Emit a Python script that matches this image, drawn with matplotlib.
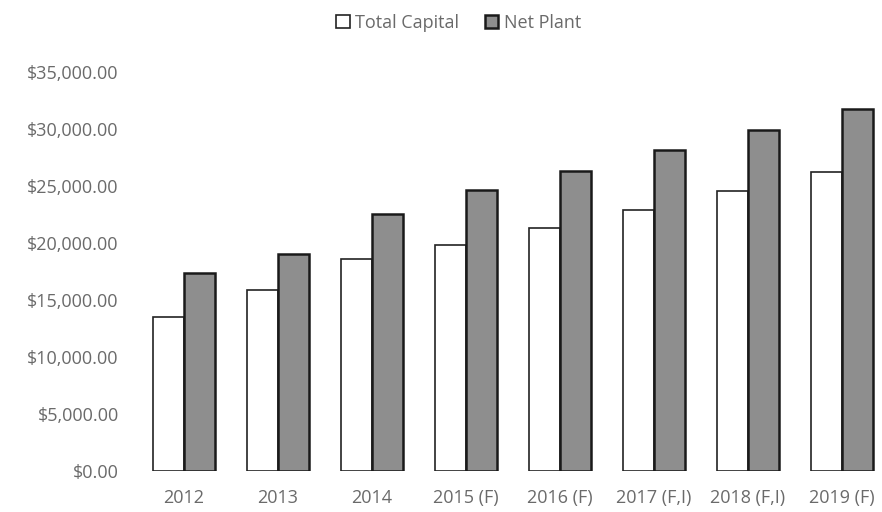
import matplotlib.pyplot as plt
import numpy as np
from matplotlib.ticker import FuncFormatter

years = ["2012", "2013", "2014", "2015 (F)", "2016 (F)", "2017 (F,I)", "2018 (F,I)", "2019 (F)"]
total_capital = [13560, 15920, 18640, 19860, 21350, 22920, 24580, 26250]
net_plant = [17410, 19070, 22570, 24670, 26330, 28170, 29920, 31760]

plt.rcParams['font.family'] = ['Open Sans', 'DejaVu Sans']
text_col = "#6a6a6a"

fig = plt.figure(figsize=(8.82, 5.12), dpi=100)
ax = fig.add_axes([0.155, 0.080, 0.853, 0.779])

x = np.arange(len(years))
w = 0.33
ax.bar(x - w / 2, total_capital, w, color="white", edgecolor="#222222", linewidth=1.2, label="Total Capital")
ax.bar(x + w / 2, net_plant, w, color="#8e8e8e", edgecolor="#1a1a1a", linewidth=1.8, label="Net Plant")

ax.set_ylim(0, 35000)
ax.set_xlim(-0.5, len(years) - 0.5)
ax.set_yticks(np.arange(0, 35001, 5000))
ax.yaxis.set_major_formatter(FuncFormatter(lambda v, p: "${:,.2f}".format(v)))
ax.set_xticks(x)
ax.set_xticklabels(years)
ax.tick_params(length=0, labelsize=13, colors=text_col)
ax.tick_params(axis="x", pad=13)
ax.tick_params(axis="y", pad=13)
for s in ax.spines.values():
    s.set_visible(False)

fig.legend(loc="upper center", bbox_to_anchor=(0.52, 1.005), ncol=2, frameon=False,
           fontsize=13, labelcolor=text_col, handlelength=0.75, handleheight=0.75,
           handletextpad=0.3, columnspacing=1.4)

fig.savefig("out.png", dpi=100)
